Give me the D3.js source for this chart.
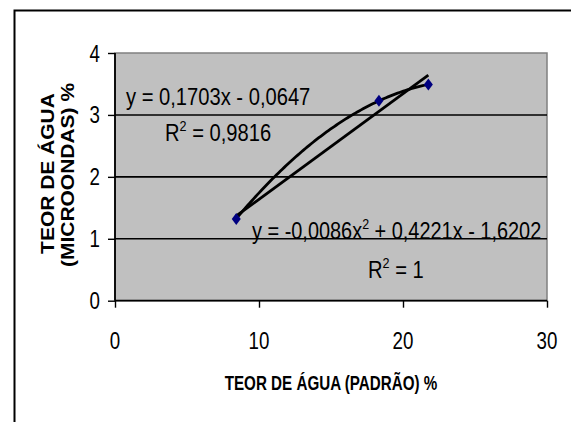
<!DOCTYPE html>
<html><head><meta charset="utf-8">
<script src="https://cdn.jsdelivr.net/npm/d3@7"></script>
<style>body{margin:0;background:#fff}svg{display:block}</style>
</head><body>
<svg id="c" width="571" height="422"></svg>
<script>
// ---- data ----
const xValues = [8.42, 18.33, 21.76];
const yValues = [1.32, 3.23, 3.49];
const xTicks = [0, 10, 20, 30];
const yTicks = [0, 1, 2, 3, 4];
const linearCoef = [0.1703, -0.0647];          // slope, intercept
const quadCoef = [-0.0086, 0.4221, -1.6202];    // a, b, c
const linearEqText = ["y = 0,1703x - 0,0647"];
const linearR2Text = ["0,9816"];
const quadEqParts = ["y = -0,0086x", " + 0,4221x - 1,6202"];
const quadR2Text = ["1"];
const xTitle = "TEOR DE ÁGUA (PADRÃO) %";
const yTitleLines = ["TEOR DE ÁGUA", "(MICROONDAS) %"];

const FONT = "'Liberation Sans', Arial, sans-serif";
const svg = d3.select("#c");

// outer frame
svg.append("rect").attr("x", 14.5).attr("y", 10.5).attr("width", 600).attr("height", 500)
  .attr("fill", "none").attr("stroke", "#000").attr("stroke-width", 2);

const x = d3.scaleLinear().domain([0, 30]).range([115, 547]);
const y = d3.scaleLinear().domain([0, 4]).range([300.7, 53]);

// plot area
svg.append("rect").attr("x", x(0)).attr("y", y(4)).attr("width", x(30) - x(0)).attr("height", y(0) - y(4))
  .attr("fill", "#C0C0C0").attr("stroke", "#808080").attr("stroke-width", 1.5);

// gridlines
svg.append("g").selectAll("line").data(yTicks.filter(d => d > 0 && d < 4)).join("line")
  .attr("x1", x(0)).attr("x2", x(30)).attr("y1", d => y(d)).attr("y2", d => y(d))
  .attr("stroke", "#000").attr("stroke-width", 1.6);

// axes
const gx = svg.append("g").attr("transform", `translate(0,${y(0)})`)
  .call(d3.axisBottom(x).tickValues(xTicks).tickSize(7).tickFormat(""));
const gy = svg.append("g").attr("transform", `translate(${x(0)},0)`)
  .call(d3.axisLeft(y).tickValues(yTicks).tickSize(7).tickFormat(""));
[gx, gy].forEach(g => {
  g.select(".domain").attr("stroke", "#000").attr("stroke-width", 1.8);
  g.selectAll(".tick line").attr("stroke", "#000").attr("stroke-width", 1.4);
});
gy.select(".domain").attr("d", `M0,${y(4)}V${y(0)}`);
gx.select(".domain").attr("d", `M${x(0)},0H${x(30)}`);

// tick labels
svg.append("g").selectAll("text").data(xTicks).join("text")
  .attr("transform", d => `translate(${x(d)},349) scale(0.78,1)`)
  .attr("text-anchor", "middle").attr("font-family", FONT).attr("font-size", 24)
  .text(d => d);
svg.append("g").selectAll("text").data(yTicks).join("text")
  .attr("transform", d => `translate(100,${y(d) + 8.5}) scale(0.78,1)`)
  .attr("text-anchor", "end").attr("font-family", FONT).attr("font-size", 24)
  .text(d => d);

// trendlines
const xs = d3.range(0, 101).map(i => xValues[0] + (xValues[2] - xValues[0]) * i / 100);
const lineGen = d3.line().x(d => x(d[0])).y(d => y(d[1]));
svg.append("path")
  .attr("d", lineGen(xs.map(v => [v, quadCoef[0] * v * v + quadCoef[1] * v + quadCoef[2]])))
  .attr("fill", "none").attr("stroke", "#000").attr("stroke-width", 2.8);
svg.append("path")
  .attr("d", lineGen([xValues[0], xValues[2]].map(v => [v, linearCoef[0] * v + linearCoef[1]])))
  .attr("fill", "none").attr("stroke", "#000").attr("stroke-width", 2.8);

// markers
svg.append("g").selectAll("path").data(xValues.map((v, i) => [v, yValues[i]])).join("path")
  .attr("transform", d => `translate(${x(d[0])},${y(d[1])})`)
  .attr("d", "M0,-6L4.5,0L0,6L-4.5,0Z").attr("fill", "#000080");

// equation labels
function eqText(tx, ty, sx, parts) {
  const t = svg.append("text").attr("transform", `translate(${tx},${ty}) scale(${sx},1)`)
    .attr("font-family", FONT).attr("font-size", 24).attr("fill", "#000");
  parts.forEach(p => {
    const s = t.append("tspan").text(p.t);
    if (p.sup) s.attr("font-size", 15).attr("dy", -10);
    if (p.down) s.attr("dy", 10);
  });
}
eqText(126, 105, 0.84, [{t: linearEqText[0]}]);
eqText(165, 141, 0.84, [{t: "R"}, {t: "2", sup: 1}, {t: " = " + linearR2Text[0], down: 1}]);
eqText(252, 239, 0.83, [{t: quadEqParts[0]}, {t: "2", sup: 1}, {t: quadEqParts[1], down: 1}]);
eqText(368, 278, 0.84, [{t: "R"}, {t: "2", sup: 1}, {t: " = " + quadR2Text[0], down: 1}]);

// axis titles
svg.append("text").attr("transform", `translate(331,390) scale(0.76,1)`)
  .attr("text-anchor", "middle").attr("font-family", FONT).attr("font-weight", "bold")
  .attr("font-size", 20).text(xTitle);
yTitleLines.forEach((l, i) => {
  svg.append("text").attr("transform", `translate(${i ? 74 : 54},${i ? 175 : 173.5}) scale(0.85,1) rotate(-90)`)
    .attr("text-anchor", "middle").attr("font-family", FONT).attr("font-weight", "bold")
    .attr("font-size", 21).text(l);
});
</script>
</body></html>
